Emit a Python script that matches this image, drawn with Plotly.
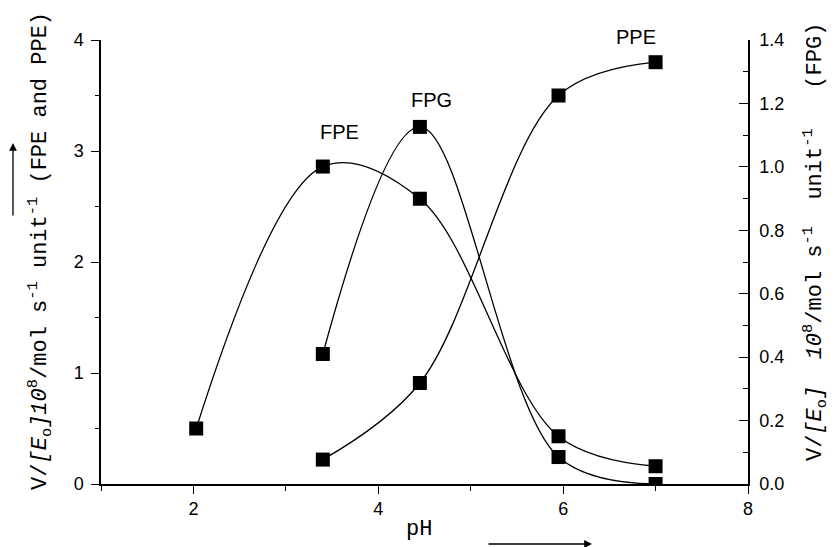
import plotly.graph_objects as go

fpe_ph = [2.03, 3.4, 4.45, 5.95, 7.0]
fpe_v = [0.50, 2.86, 2.57, 0.43, 0.16]
fpg_ph = [3.4, 4.45, 5.95, 7.0]
fpg_v = [0.41, 1.126, 0.085, 0.0]
ppe_ph = [3.4, 4.45, 5.95, 7.0]
ppe_v = [0.22, 0.91, 3.50, 3.80]

series_labels = ["FPE", "FPG", "PPE"]
label_x = [3.575, 4.58, 6.79]
label_y = [3.17, 3.46, 4.03]

mono = "Liberation Mono"
sans = "Liberation Sans"
nb = "\u00a0"

fig = go.Figure()
line = dict(color="black", width=1.3, shape="spline", smoothing=1.0)
mk = dict(symbol="square", size=14, color="black")

fig.add_trace(go.Scatter(x=fpe_ph, y=fpe_v, mode="lines+markers", line=line, marker=mk,
                         yaxis="y", showlegend=False))
fig.add_trace(go.Scatter(x=ppe_ph, y=ppe_v, mode="lines+markers", line=line, marker=mk,
                         yaxis="y", showlegend=False))
fig.add_trace(go.Scatter(x=fpg_ph, y=fpg_v, mode="lines+markers", line=line, marker=mk,
                         yaxis="y2", showlegend=False))

# series labels: x in data units, y converted to paper so labels above the range still show
for t, lx, ly in zip(series_labels, label_x, label_y):
    fig.add_annotation(x=lx, y=ly / 4.0, xref="x", yref="paper", text=t, showarrow=False,
                       xanchor="center", yanchor="middle",
                       font=dict(family=sans, size=20, color="black"))

left_title = ("V/<i>[E</i><sub>o</sub><i>]10</i><sup>8</sup>/mol" + nb + "s<sup>-1</sup>" + nb +
              "unit<sup>-1</sup>" + nb + "(FPE and PPE)")
right_title = ("V/<i>[E</i><sub>o</sub><i>]</i>" + nb * 2 + "<i>10</i><sup>8</sup>/mol" + nb + "s<sup>-1</sup>" + nb * 2 +
               "unit<sup>-1</sup>" + nb * 3 + "(FPG)")

fig.add_annotation(xref="paper", yref="paper", x=0, y=0.525, xshift=-61, text=left_title,
                   textangle=-90, showarrow=False, xanchor="center", yanchor="middle",
                   font=dict(family=mono, size=22, color="black"))
fig.add_annotation(xref="paper", yref="paper", x=1, y=0.545, xshift=67, text=right_title,
                   textangle=-90, showarrow=False, xanchor="center", yanchor="middle",
                   font=dict(family=mono, size=22, color="black"))
fig.add_annotation(xref="paper", yref="paper", x=0.4915, y=-0.1036, text="pH",
                   showarrow=False, xanchor="center", yanchor="middle",
                   font=dict(family=mono, size=22, color="black"))

# arrows
fig.add_annotation(xref="paper", yref="paper", x=0, y=(484 - 143) / 444, xshift=-88,
                   ax=0, ay=74, text="", showarrow=True, arrowhead=2, arrowsize=1.2,
                   arrowwidth=1.3, arrowcolor="black")
fig.add_annotation(xref="paper", yref="paper", x=(592 - 101) / 647, y=(484 - 544) / 444,
                   ax=-105, ay=0, text="", showarrow=True, arrowhead=2, arrowsize=1.2,
                   arrowwidth=1.3, arrowcolor="black")

fig.update_layout(
    width=836, height=547,
    margin=dict(l=101, r=88, t=40, b=63),
    paper_bgcolor="white", plot_bgcolor="white",
    xaxis=dict(range=[1, 8], tick0=0, dtick=2, ticks="outside", ticklen=8, tickwidth=1.3,
               tickcolor="black", showline=True, linecolor="black", linewidth=1.5,
               showgrid=False, zeroline=False,
               tickfont=dict(family=sans, size=18, color="black"),
               minor=dict(dtick=1, tick0=0, ticks="outside", ticklen=5, tickcolor="black")),
    yaxis=dict(range=[0, 4], tick0=0, dtick=1, ticks="outside", ticklen=8, tickwidth=1.3,
               tickcolor="black", showline=True, linecolor="black", linewidth=1.5,
               showgrid=False, zeroline=False, ticklabelstandoff=4,
               tickfont=dict(family=sans, size=18, color="black"),
               minor=dict(dtick=0.5, tick0=0, ticks="outside", ticklen=4, tickcolor="black")),
    yaxis2=dict(range=[0, 1.4], tick0=0, dtick=0.2, tickformat=".1f", overlaying="y",
                side="right", ticks="inside", ticklen=9, tickwidth=1.3, tickcolor="black",
                showline=True, linecolor="black", linewidth=1.5, showgrid=False,
                zeroline=False, ticklabelstandoff=6,
                tickfont=dict(family=sans, size=18, color="black"),
                minor=dict(dtick=0.1, tick0=0, ticks="inside", ticklen=5, tickcolor="black")),
)

fig.write_html("out.html")
